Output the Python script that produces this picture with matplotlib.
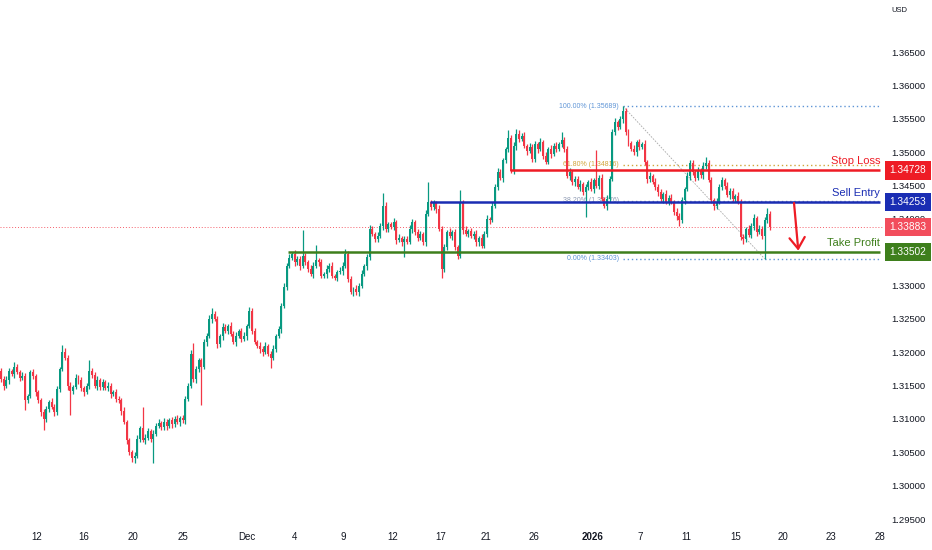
import matplotlib
matplotlib.use("Agg")
import matplotlib.pyplot as plt
import numpy as np

plt.rcParams['font.family'] = ['Liberation Sans', 'DejaVu Sans']

# 4H candles, prices as pips above 1.30000 (open of each bar = previous close)
first_open = 172
closes = [
    160, 150, 158, 172, 168, 178, 170, 162, 165, 128,
    135, 170, 165, 140, 128, 110, 100, 115, 125, 118,
    110, 145, 175, 200, 192, 150, 142, 148, 162, 158,
    146, 140, 150, 172, 166, 150, 158, 148, 155, 146,
    150, 138, 140, 130, 128, 112, 95, 68, 50, 42,
    45, 70, 86, 68, 72, 82, 70, 78, 90, 94,
    88, 96, 90, 98, 92, 100, 96, 102, 98, 130,
    150, 198, 160, 175, 188, 178, 215, 225, 250, 258,
    250, 212, 225, 238, 232, 240, 228, 215, 225, 232,
    220, 225, 240, 262, 232, 215, 210, 205, 200, 210,
    198, 192, 205, 225, 235, 270, 298, 330, 342, 348,
    335, 340, 330, 345, 335, 325, 318, 330, 338, 335,
    315, 318, 325, 330, 315, 312, 320, 322, 330, 348,
    310, 290, 295, 290, 300, 318, 330, 343, 385, 378,
    370, 375, 390, 420, 385, 392, 388, 395, 368, 372,
    365, 370, 366, 385, 396, 380, 372, 378, 365, 408,
    425, 418, 424, 415, 385, 325, 358, 380, 375, 380,
    358, 345, 425, 383, 378, 382, 374, 378, 365, 372,
    360, 378, 400, 398, 420, 448, 470, 462, 488, 505,
    522, 472, 510, 528, 520, 525, 510, 502, 508, 490,
    512, 505, 515, 495, 486, 505, 498, 510, 505, 512,
    518, 505, 465, 470, 455, 460, 448, 452, 440, 448,
    455, 445, 458, 450, 462, 430, 420, 430, 460, 530,
    545, 538, 550, 562, 530, 514, 505, 500, 515, 508,
    512, 485, 460, 465, 456, 448, 440, 430, 438, 426,
    432, 425, 410, 405, 398, 428, 445, 465, 484, 470,
    462, 472, 466, 480, 484, 458, 428, 420, 425, 448,
    458, 450, 436, 442, 430, 435, 426, 373, 370, 385,
    376, 390, 402, 380, 385, 374, 398, 408, 388,
]
wick_up = [
    5, 4, 6, 4, 3, 8, 5, 4, 6, 4,
    3, 4, 5, 3, 4, 3, 5, 4, 3, 6,
    4, 5, 3, 11, 6, 4, 5, 3, 6, 4,
    5, 3, 4, 16, 5, 4, 6, 3, 5, 4,
    6, 4, 3, 5, 4, 3, 6, 4, 3, 4,
    5, 6, 4, 32, 5, 4, 3, 5, 4, 6,
    3, 5, 4, 3, 5, 4, 6, 3, 4, 5,
    4, 6, 16, 5, 4, 3, 5, 4, 6, 8,
    4, 5, 3, 6, 4, 3, 5, 4, 6, 3,
    4, 5, 3, 6, 4, 5, 3, 6, 4, 5,
    3, 4, 6, 3, 5, 4, 6, 4, 5, 3,
    6, 4, 5, 38, 4, 3, 6, 5, 23, 4,
    5, 3, 6, 4, 5, 3, 4, 6, 5, 7,
    4, 5, 3, 6, 4, 5, 3, 4, 6, 5,
    3, 6, 4, 19, 5, 4, 3, 6, 4, 5,
    3, 5, 4, 6, 4, 3, 5, 4, 3, 6,
    30, 4, 5, 3, 6, 4, 5, 3, 6, 4,
    5, 3, 18, 4, 6, 3, 5, 4, 6, 3,
    5, 4, 6, 3, 5, 4, 6, 5, 4, 3,
    11, 4, 5, 7, 6, 4, 5, 3, 6, 4,
    5, 3, 6, 4, 5, 3, 6, 4, 5, 3,
    12, 5, 4, 6, 3, 5, 4, 6, 3, 5,
    4, 6, 3, 45, 4, 5, 3, 6, 4, 5,
    6, 4, 5, 7, 4, 5, 3, 6, 4, 5,
    3, 6, 4, 5, 3, 6, 4, 5, 3, 6,
    4, 5, 3, 6, 4, 5, 3, 6, 4, 5,
    3, 6, 4, 5, 9, 4, 5, 3, 6, 4,
    5, 3, 6, 4, 5, 3, 6, 4, 5, 3,
    6, 4, 5, 3, 6, 4, 5, 8, 4,
]
wick_dn = [
    4, 6, 3, 5, 4, 6, 3, 5, 4, 15,
    4, 3, 5, 6, 4, 5, 17, 4, 5, 3,
    6, 4, 5, 3, 4, 6, 36, 4, 3, 5,
    4, 6, 3, 5, 4, 3, 6, 4, 5, 3,
    4, 6, 3, 5, 4, 6, 3, 5, 4, 6,
    8, 4, 5, 3, 6, 4, 5, 36, 4, 3,
    5, 4, 6, 3, 5, 4, 3, 6, 4, 5,
    3, 4, 5, 6, 4, 57, 3, 5, 4, 6,
    3, 5, 4, 6, 3, 5, 4, 3, 6, 4,
    5, 3, 6, 4, 5, 3, 4, 6, 5, 3,
    4, 16, 3, 5, 4, 6, 3, 5, 4, 3,
    5, 4, 6, 3, 4, 5, 3, 6, 4, 5,
    3, 4, 6, 5, 3, 4, 5, 3, 6, 4,
    5, 3, 6, 4, 5, 3, 4, 6, 5, 3,
    4, 5, 3, 6, 4, 5, 3, 4, 6, 3,
    5, 22, 4, 3, 6, 4, 5, 3, 4, 6,
    3, 5, 4, 6, 3, 14, 4, 5, 3, 6,
    4, 5, 3, 6, 4, 5, 3, 4, 6, 5,
    3, 4, 5, 6, 3, 4, 5, 3, 6, 4,
    5, 3, 4, 6, 5, 3, 4, 6, 3, 5,
    4, 6, 3, 5, 4, 3, 6, 4, 5, 3,
    4, 5, 3, 6, 4, 5, 3, 6, 4, 37,
    5, 3, 6, 4, 5, 3, 4, 6, 5, 3,
    4, 5, 3, 6, 4, 5, 3, 4, 6, 5,
    3, 4, 6, 5, 3, 4, 5, 3, 6, 4,
    5, 3, 4, 6, 8, 4, 5, 3, 6, 4,
    5, 3, 4, 6, 5, 3, 4, 6, 5, 3,
    4, 5, 3, 6, 4, 5, 3, 4, 8, 5,
    3, 4, 6, 5, 3, 4, 34, 4, 5,
]

tick_pos = [13.5, 31, 49.5, 68, 92, 110, 128, 146.5, 164.5, 181.5,
            199.5, 221.5, 239.5, 256.5, 275, 293, 311, 329]
tick_labels = ["12", "16", "20", "25", "Dec", "4", "9", "12", "17", "21",
               "26", "2026", "7", "11", "15", "20", "23", "28"]
# 1.33500 sits fully under the take-profit price tag, so it is not listed
price_ticks = [1.295, 1.300, 1.305, 1.310, 1.315, 1.320, 1.325, 1.330,
               1.340, 1.345, 1.350, 1.355, 1.360, 1.365]

stop_loss = 1.34728
sell_entry = 1.34253
take_profit = 1.33502
last_price = 1.33883
level_starts = [190.5, 160.5, 107.5]      # bar where each level line begins
fib_levels = [1.35689, 1.34816, 1.34276, 1.33403]
fib_pcts = ["100.00%", "61.80%", "38.20%", "0.00%"]
swing_high_bar, swing_low_bar = 233, 286
arrow_from = (297.0, 1.34240)
arrow_to = (298.6, 1.33525)

UP, DOWN = '#089981', '#f23645'
RED, BLUE, GREEN = '#ee1c25', '#1a2db3', '#3e7f1c'
FIB_BLUE, FIB_GOLD, FIB_GREY = '#5f95d6', '#d1a53a', '#8f9bb3'
X_RIGHT = 329.3

pip = 0.0001
c = 1.3 + np.array(closes) * pip
o = np.concatenate([[1.3 + first_open * pip], c[:-1]])
h = np.maximum(o, c) + np.array(wick_up) * pip
l = np.minimum(o, c) - np.array(wick_dn) * pip
x = np.arange(len(c))
col = np.where(c >= o, UP, DOWN)

fig = plt.figure(figsize=(9.32, 5.5), dpi=100)
ax = fig.add_axes([0, 25 / 550, 884 / 932, 525 / 550])

ax.vlines(x, l, h, colors=col, lw=0.9, zorder=2)
body = np.maximum(np.abs(c - o), 0.00004)
ax.bar(x, body, bottom=np.minimum(o, c), width=0.74, color=col, lw=0, zorder=2)

# current price
ax.axhline(last_price, color=DOWN, lw=0.7, ls=(0, (1, 2)), alpha=0.8, zorder=1)

# fibonacci retracement
fib_cols = [FIB_BLUE, FIB_GOLD, FIB_GREY, FIB_BLUE]
for lev, pct, fc in zip(fib_levels, fib_pcts, fib_cols):
    ax.hlines(lev, swing_high_bar, X_RIGHT, colors=fc, lw=1.0, ls=(0, (1, 2)), zorder=1)
    ax.text(swing_high_bar - 1.5, lev, f"{pct} ({lev:.5f})", color=fc, fontsize=5,
            ha='right', va='center', zorder=1)
ax.plot([swing_high_bar, swing_low_bar], [fib_levels[0], fib_levels[-1]],
        color='#a9a9a9', lw=0.6, ls=(0, (2, 1.5)), zorder=1)

# trade levels
levels = [stop_loss, sell_entry, take_profit]
names = ["Stop Loss", "Sell Entry", "Take Profit"]
cols = [RED, BLUE, GREEN]
for lev, start, name, lc in zip(levels, level_starts, names, cols):
    ax.hlines(lev, start, X_RIGHT, colors=lc, lw=1.8, zorder=3)
    ax.annotate(name, (X_RIGHT, lev), xytext=(0, 3), textcoords='offset points',
                ha='right', va='bottom', color=lc, fontsize=8, zorder=4)

ax.annotate('', xy=arrow_to, xytext=arrow_from,
            arrowprops=dict(arrowstyle='->,head_length=0.8,head_width=0.55',
                            color=RED, lw=1.6, shrinkA=0, shrinkB=0))

# price labels on the right scale
ytr = ax.get_yaxis_transform()
for lev, bc in zip([stop_loss, sell_entry, last_price, take_profit],
                   [RED, BLUE, '#f24d5c', GREEN]):
    ax.text(1.0271, lev, f"{lev:.5f}", transform=ytr, ha='center', va='center',
            color='white', fontsize=7.3, clip_on=False, zorder=6,
            bbox=dict(boxstyle='square,pad=0.42', fc=bc, ec='none'))

ax.set_xlim(-0.4, 330.7)
ax.set_ylim(1.29410, 1.37285)
ax.yaxis.tick_right()
ax.set_yticks(price_ticks, [f"{p:.5f}" for p in price_ticks])
ax.set_xticks(tick_pos, tick_labels)
ax.tick_params(axis='y', length=0, pad=5.5, labelsize=6.8, labelcolor='#131722')
ax.tick_params(axis='x', length=0, pad=5, labelsize=7, labelcolor='#131722')
for lab in ax.get_xticklabels():
    if lab.get_text() == "2026":
        lab.set_fontweight('bold')
for s in ax.spines.values():
    s.set_visible(False)

fig.text(899 / 932, 1 - 11 / 550, "USD", fontsize=5.5, ha='center', va='center',
         color='#131722')

fig.savefig("out.png", dpi=100)
